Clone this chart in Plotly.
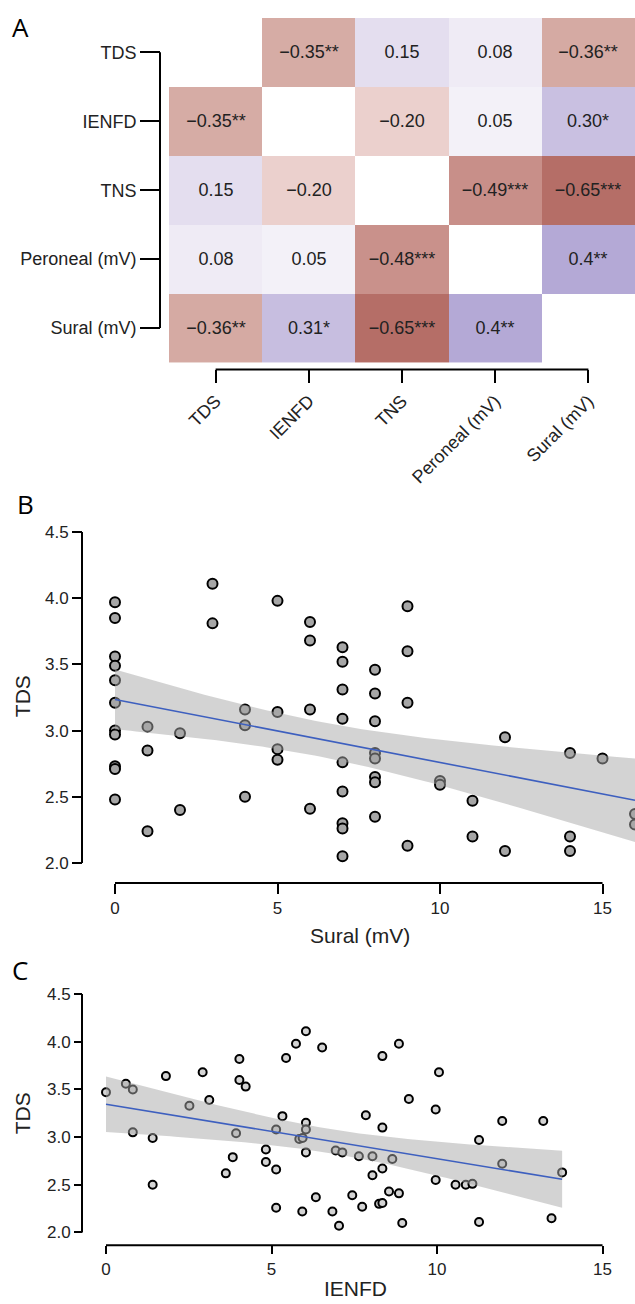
import numpy as np
import plotly.graph_objects as go

# ---------------- Data ----------------
# Panel A: correlation matrix
vars_ = ["TDS", "IENFD", "TNS", "Peroneal (mV)", "Sural (mV)"]
corr_tds = [None, -0.35, 0.15, 0.08, -0.36]
corr_ienfd = [-0.35, None, -0.20, 0.05, 0.30]
corr_tns = [0.15, -0.20, None, -0.49, -0.65]
corr_peroneal = [0.08, 0.05, -0.48, None, 0.40]
corr_sural = [-0.36, 0.31, -0.65, 0.40, None]
lab_tds = ["", "\u22120.35**", "0.15", "0.08", "\u22120.36**"]
lab_ienfd = ["\u22120.35**", "", "\u22120.20", "0.05", "0.30*"]
lab_tns = ["0.15", "\u22120.20", "", "\u22120.49***", "\u22120.65***"]
lab_peroneal = ["0.08", "0.05", "\u22120.48***", "", "0.4**"]
lab_sural = ["\u22120.36**", "0.31*", "\u22120.65***", "0.4**", ""]

# Panel B: TDS vs Sural (mV)
sural_x = [0]*11 + [1]*3 + [2]*2 + [3]*2 + [4]*3 + [5]*4 + [6]*4 + [7]*9 + [8]*8 + [9]*4 + [10]*2 + [11]*2 + [12]*2 + [14]*3 + [15] + [16]*2
sural_tds = [3.97, 3.85, 3.56, 3.49, 3.38, 3.21, 3.00, 2.97, 2.73, 2.71, 2.48,
             3.03, 2.85, 2.24,
             2.98, 2.40,
             4.11, 3.81,
             3.16, 3.04, 2.50,
             3.98, 3.14, 2.86, 2.78,
             3.82, 3.68, 3.16, 2.41,
             3.63, 3.52, 3.31, 3.09, 2.76, 2.54, 2.30, 2.26, 2.05,
             3.46, 3.28, 3.07, 2.83, 2.79, 2.65, 2.61, 2.35,
             3.94, 3.60, 3.21, 2.13,
             2.62, 2.59,
             2.47, 2.20,
             2.95, 2.09,
             2.83, 2.20, 2.09,
             2.79,
             2.37, 2.29]

# Panel C: TDS vs IENFD
ienfd_x = [0.00, 0.60, 0.81, 0.81, 1.41, 1.41, 1.81, 2.52, 2.92, 3.12,
           3.62, 3.83, 3.93, 4.03, 4.03, 4.22, 4.83, 4.83, 5.14, 5.14,
           5.14, 5.33, 5.44, 5.74, 5.84, 5.94, 5.93, 6.04, 6.04, 6.04,
           6.04, 6.34, 6.53, 6.84, 6.94, 7.04, 7.14, 7.44, 7.64, 7.74,
           7.85, 8.05, 8.05, 8.25, 8.35, 8.35, 8.35, 8.35, 8.55, 8.65,
           8.85, 8.85, 8.95, 9.15, 9.96, 9.96, 10.06, 10.56, 10.87, 11.07,
           11.27, 11.27, 11.97, 11.97, 13.21, 13.46, 13.78]
ienfd_tds = [3.47, 3.56, 3.50, 3.05, 2.99, 2.50, 3.64, 3.33, 3.68, 3.39,
             2.62, 2.79, 3.04, 3.82, 3.60, 3.53, 2.87, 2.74, 3.08, 2.66,
             2.26, 3.22, 3.83, 3.98, 2.98, 2.99, 2.22, 4.11, 3.15, 3.08,
             2.84, 2.37, 3.94, 2.22, 2.86, 2.07, 2.84, 2.39, 2.80, 2.27,
             3.23, 2.80, 2.60, 2.30, 2.31, 2.67, 3.10, 3.85, 2.43, 2.77,
             2.41, 3.98, 2.10, 3.40, 3.29, 2.55, 3.68, 2.50, 2.50, 2.51,
             2.97, 2.11, 3.17, 2.72, 3.17, 2.15, 2.63]

y_ticks = [2.0, 2.5, 3.0, 3.5, 4.0, 4.5]
x_ticks = [0, 5, 10, 15]

# ---------------- Helpers ----------------
W, H = 635, 1304
FONT = "Liberation Sans, Arial, sans-serif"


def px_x(p):
    return p / W


def px_y(p):
    return 1 - p / H


def fit_band(x, y, xgrid, t=2.0):
    x = np.asarray(x, float)
    y = np.asarray(y, float)
    n = len(x)
    b, a = np.polyfit(x, y, 1)
    yhat = a + b * x
    s = np.sqrt(np.sum((y - yhat) ** 2) / (n - 2))
    sxx = np.sum((x - x.mean()) ** 2)
    fit = a + b * xgrid
    se = s * np.sqrt(1.0 / n + (xgrid - x.mean()) ** 2 / sxx)
    return fit, fit - t * se, fit + t * se


fig = go.Figure()

# ---------------- Panel A ----------------
z = [corr_tds, corr_ienfd, corr_tns, corr_peroneal, corr_sural]
txt = [lab_tds, lab_ienfd, lab_tns, lab_peroneal, lab_sural]
zmin, zmax = -0.7, 0.7


def t(v):
    return (v - zmin) / (zmax - zmin)


cscale = [
    [t(-0.7), "rgb(176,100,93)"],
    [t(-0.65), "rgb(181,110,103)"],
    [t(-0.49), "rgb(200,143,137)"],
    [t(-0.35), "rgb(214,172,165)"],
    [t(-0.2), "rgb(235,208,205)"],
    [t(0.0), "rgb(255,255,255)"],
    [t(0.05), "rgb(243,241,248)"],
    [t(0.08), "rgb(239,235,245)"],
    [t(0.15), "rgb(228,222,239)"],
    [t(0.31), "rgb(199,190,224)"],
    [t(0.4), "rgb(180,169,214)"],
    [t(0.7), "rgb(140,125,195)"],
]

fig.add_trace(go.Heatmap(
    z=z, x=vars_, y=vars_, text=txt, texttemplate="%{text}",
    textfont=dict(size=18, color="#222222", family=FONT),
    colorscale=cscale, zmin=zmin, zmax=zmax, showscale=False,
    xgap=0, ygap=0, hoverinfo="skip", xaxis="x", yaxis="y"))

hm_x0, hm_x1 = 169, 635
hm_y0, hm_y1 = 14, 361
axA_y = 368
axA_x = 160

# ---------------- Panel B ----------------
bx0px, bx1px = 98.75, 635
b_xr = [-0.5, 16]
b_yr = [1.95, 4.55]
b_top = 531.7 - (4.55 - 4.5) * 133.3
b_bot = 531.7 + (4.5 - 1.95) * 133.3
axB_x = 82
axB_y = 885

fig.add_trace(go.Scatter(
    x=sural_x, y=sural_tds, mode="markers",
    marker=dict(size=10, color="#a6a6a6", line=dict(color="black", width=2)),
    xaxis="x2", yaxis="y2", hoverinfo="skip"))
gB = np.linspace(0, 16, 100)
fB, loB, hiB = fit_band(sural_x, sural_tds, gB)
fig.add_trace(go.Scatter(
    x=np.concatenate([gB, gB[::-1]]), y=np.concatenate([hiB, loB[::-1]]),
    fill="toself", fillcolor="rgba(168,168,168,0.5)", line=dict(width=0),
    mode="lines", xaxis="x2", yaxis="y2", hoverinfo="skip"))
fig.add_trace(go.Scatter(
    x=gB, y=fB, mode="lines", line=dict(color="#3d5fbf", width=1.6),
    xaxis="x2", yaxis="y2", hoverinfo="skip"))

# ---------------- Panel C ----------------
c_scale = 33.1
c_x0val = 106
c_xr = [-0.4, (635 - c_x0val) / c_scale]
cx0px = c_x0val + c_xr[0] * c_scale
c_yr = [1.95, 4.55]
c_top = 997 - (4.55 - 4.5) * 96
c_bot = 997 + (4.5 - 1.95) * 96
axC_x = 82
axC_y = 1250

fig.add_trace(go.Scatter(
    x=ienfd_x, y=ienfd_tds, mode="markers",
    marker=dict(size=8, color="#d4d4d4", line=dict(color="black", width=2)),
    xaxis="x3", yaxis="y3", hoverinfo="skip"))
gC = np.linspace(min(ienfd_x), max(ienfd_x), 100)
fC, loC, hiC = fit_band(ienfd_x, ienfd_tds, gC)
fig.add_trace(go.Scatter(
    x=np.concatenate([gC, gC[::-1]]), y=np.concatenate([hiC, loC[::-1]]),
    fill="toself", fillcolor="rgba(168,168,168,0.5)", line=dict(width=0),
    mode="lines", xaxis="x3", yaxis="y3", hoverinfo="skip"))
fig.add_trace(go.Scatter(
    x=gC, y=fC, mode="lines", line=dict(color="#3d5fbf", width=1.6),
    xaxis="x3", yaxis="y3", hoverinfo="skip"))

# ---------------- Axes ----------------
tickfont = dict(size=17, color="#222222", family=FONT)
common = dict(showgrid=False, zeroline=False, showline=False, ticks="outside",
              tickwidth=2, tickcolor="black")

fig.update_layout(
    width=W, height=H, margin=dict(l=0, r=0, t=0, b=0),
    paper_bgcolor="white", plot_bgcolor="white", showlegend=False,
    font=dict(family=FONT, color="#222222"),
    xaxis=dict(domain=[px_x(hm_x0), px_x(hm_x1)], anchor="free",
               position=px_y(axA_y), ticklen=13, tickangle=-45,
               tickfont=dict(size=18, color="#222222", family=FONT), **common),
    yaxis=dict(domain=[px_y(hm_y1), px_y(hm_y0)], anchor="free",
               position=px_x(axA_x), ticklen=20, autorange="reversed",
               tickfont=dict(size=18, color="#222222", family=FONT), **common),
    xaxis2=dict(domain=[px_x(bx0px), px_x(bx1px)], range=b_xr, anchor="free",
                position=px_y(axB_y), ticklen=10, tickvals=x_ticks,
                tickfont=tickfont, **common),
    yaxis2=dict(domain=[px_y(b_bot), px_y(b_top)], range=b_yr, anchor="free",
                position=px_x(axB_x), ticklen=10, tickvals=y_ticks,
                tickformat=".1f", tickfont=tickfont, **common),
    xaxis3=dict(domain=[px_x(cx0px), 1.0], range=c_xr, anchor="free",
                position=px_y(axC_y), ticklen=8, tickvals=x_ticks,
                tickfont=tickfont, **common),
    yaxis3=dict(domain=[px_y(c_bot), px_y(c_top)], range=c_yr, anchor="free",
                position=px_x(axC_x), ticklen=8, tickvals=y_ticks,
                tickformat=".1f", tickfont=tickfont, **common),
)

# Bracket-style axis lines (R style: from first to last tick)
bl = dict(color="black", width=2)
shapes = [
    dict(type="line", xref="x", yref="paper", x0=0, x1=len(vars_) - 1,
         y0=px_y(axA_y), y1=px_y(axA_y), line=bl),
    dict(type="line", xref="paper", yref="y", x0=px_x(axA_x), x1=px_x(axA_x),
         y0=0, y1=len(vars_) - 1, line=bl),
    dict(type="line", xref="x2", yref="paper", x0=x_ticks[0], x1=x_ticks[-1],
         y0=px_y(axB_y), y1=px_y(axB_y), line=bl),
    dict(type="line", xref="paper", yref="y2", x0=px_x(axB_x), x1=px_x(axB_x),
         y0=y_ticks[0], y1=y_ticks[-1], line=bl),
    dict(type="line", xref="x3", yref="paper", x0=x_ticks[0], x1=x_ticks[-1],
         y0=px_y(axC_y), y1=px_y(axC_y), line=bl),
    dict(type="line", xref="paper", yref="y3", x0=px_x(axC_x), x1=px_x(axC_x),
         y0=y_ticks[0], y1=y_ticks[-1], line=bl),
]
fig.update_layout(shapes=shapes)

# Titles and panel letters
ann = []
for letter, (x, y) in {"A": (20, 23), "B": (25, 503), "C": (20, 973)}.items():
    ann.append(dict(text=letter, x=px_x(x), y=px_y(y), xref="paper", yref="paper",
                    showarrow=False, xanchor="center", yanchor="middle",
                    font=dict(size=26, family="Open Sans", color="black")))
ann.append(dict(text="Sural (mV)", x=px_x(360), y=px_y(938), xref="paper", yref="paper",
                showarrow=False, xanchor="center", yanchor="middle",
                font=dict(size=21, family=FONT, color="#222222")))
ann.append(dict(text="TDS", x=px_x(22), y=px_y(697), xref="paper", yref="paper",
                showarrow=False, xanchor="center", yanchor="middle", textangle=-90,
                font=dict(size=21, family=FONT, color="#222222")))
ann.append(dict(text="IENFD", x=px_x(355), y=px_y(1293), xref="paper", yref="paper",
                showarrow=False, xanchor="center", yanchor="middle",
                font=dict(size=21, family=FONT, color="#222222")))
ann.append(dict(text="TDS", x=px_x(22), y=px_y(1117), xref="paper", yref="paper",
                showarrow=False, xanchor="center", yanchor="middle", textangle=-90,
                font=dict(size=21, family=FONT, color="#222222")))
fig.update_layout(annotations=ann)

fig.write_html("out.html", config={"displayModeBar": False},
               post_script="document.body.style.margin='0';")
